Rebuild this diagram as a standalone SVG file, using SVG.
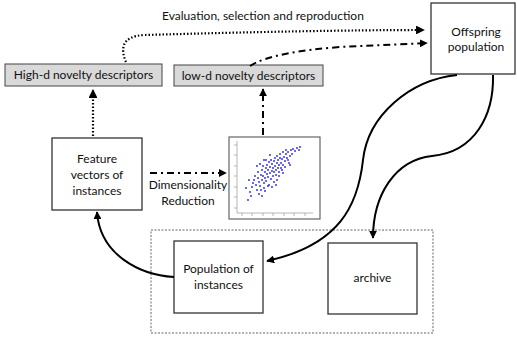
<svg xmlns="http://www.w3.org/2000/svg" width="517" height="339" viewBox="0 0 517 339">
  <style>
    text { font-family: Lato, "Liberation Sans", sans-serif; font-size: 12px; fill: #111; text-anchor: middle; }
    .box { fill: #fff; stroke: #333; stroke-width: 1.3; }
    .gbox { fill: #d9d9d9; stroke: #444; stroke-width: 1; }
    .conn { fill: none; stroke: #000; stroke-width: 2; }
    .dot { stroke-dasharray: 1.5 2; stroke-width: 2.2; }
    .dashdot { stroke-dasharray: 7 4 2 4; }
    .axis { stroke: #999; stroke-width: 0.7; fill: none; }
    .pt { fill: #2222ee; }
  </style>
  <defs>
    <marker id="arrow" viewBox="0 0 10 10" refX="9" refY="5" markerWidth="4" markerHeight="4" orient="auto" markerUnits="strokeWidth">
      <path d="M0,0 L10,5 L0,10 z" fill="#000"/>
    </marker>
  </defs>

  <!-- grouping frame around population and archive -->
  <rect id="store" x="151" y="230" width="282" height="103" fill="none" stroke="#666" stroke-width="1" stroke-dasharray="2 1.5"/>

  <text x="263" y="20">Evaluation, selection and reproduction</text>

  <g id="high-d">
    <rect class="gbox" x="5" y="64" width="157" height="22"/>
    <text x="83.5" y="79">High-d novelty descriptors</text>
  </g>

  <g id="low-d">
    <rect class="gbox" x="174" y="65" width="149" height="21"/>
    <text x="248.5" y="80">low-d novelty descriptors</text>
  </g>

  <g id="offspring">
    <rect class="box" x="431" y="3" width="84" height="71"/>
    <text x="476" y="36">Offspring</text>
    <text x="476" y="51">population</text>
  </g>

  <g id="features">
    <rect class="box" x="52" y="138" width="90" height="72"/>
    <text x="97" y="163">Feature</text>
    <text x="97" y="179">vectors of</text>
    <text x="97" y="195">instances</text>
  </g>

  <g id="scatter">
    <rect x="229" y="137" width="91" height="82" fill="#fff" stroke="#666" stroke-width="1.2"/>
    <path class="axis" d="M237,141 V213 H313"/>
    <path class="axis" d="M234,145 h3 M234,155 h3 M234,166 h3 M234,176 h3 M234,187 h3 M234,197 h3 M234,208 h3
                          M242,213 v3 M252,213 v3 M263,213 v3 M273,213 v3 M284,213 v3 M294,213 v3 M305,213 v3"/>
    <g class="pt">
      <circle cx="248" cy="200" r="0.9"/><circle cx="250" cy="192" r="0.9"/><circle cx="252" cy="187" r="0.9"/>
      <circle cx="253" cy="183" r="0.9"/><circle cx="249" cy="180" r="0.9"/><circle cx="256" cy="185" r="0.9"/>
      <circle cx="257" cy="190" r="0.9"/><circle cx="258" cy="178" r="0.9"/><circle cx="259" cy="182" r="0.9"/>
      <circle cx="260" cy="186" r="0.9"/><circle cx="261" cy="175" r="0.9"/><circle cx="262" cy="180" r="0.9"/>
      <circle cx="262" cy="170" r="0.9"/><circle cx="263" cy="176" r="0.9"/><circle cx="264" cy="183" r="0.9"/>
      <circle cx="265" cy="172" r="0.9"/><circle cx="265" cy="178" r="0.9"/><circle cx="266" cy="168" r="0.9"/>
      <circle cx="266" cy="181" r="0.9"/><circle cx="267" cy="174" r="0.9"/><circle cx="267" cy="165" r="0.9"/>
      <circle cx="268" cy="170" r="0.9"/><circle cx="268" cy="177" r="0.9"/><circle cx="269" cy="162" r="0.9"/>
      <circle cx="269" cy="185" r="0.9"/><circle cx="270" cy="173" r="0.9"/><circle cx="270" cy="167" r="0.9"/>
      <circle cx="271" cy="179" r="0.9"/><circle cx="271" cy="160" r="0.9"/><circle cx="272" cy="171" r="0.9"/>
      <circle cx="272" cy="164" r="0.9"/><circle cx="273" cy="176" r="0.9"/><circle cx="273" cy="168" r="0.9"/>
      <circle cx="274" cy="161" r="0.9"/><circle cx="274" cy="172" r="0.9"/><circle cx="275" cy="166" r="0.9"/>
      <circle cx="275" cy="158" r="0.9"/><circle cx="276" cy="170" r="0.9"/><circle cx="276" cy="175" r="0.9"/>
      <circle cx="277" cy="163" r="0.9"/><circle cx="277" cy="156" r="0.9"/><circle cx="278" cy="168" r="0.9"/>
      <circle cx="278" cy="160" r="0.9"/><circle cx="279" cy="172" r="0.9"/><circle cx="279" cy="165" r="0.9"/>
      <circle cx="280" cy="158" r="0.9"/><circle cx="280" cy="154" r="0.9"/><circle cx="281" cy="163" r="0.9"/>
      <circle cx="281" cy="168" r="0.9"/><circle cx="282" cy="159" r="0.9"/><circle cx="283" cy="152" r="0.9"/>
      <circle cx="283" cy="165" r="0.9"/><circle cx="284" cy="157" r="0.9"/><circle cx="285" cy="161" r="0.9"/>
      <circle cx="286" cy="154" r="0.9"/><circle cx="286" cy="150" r="0.9"/><circle cx="287" cy="158" r="0.9"/>
      <circle cx="288" cy="152" r="0.9"/><circle cx="289" cy="163" r="0.9"/><circle cx="290" cy="156" r="0.9"/>
      <circle cx="291" cy="150" r="0.9"/><circle cx="292" cy="154" r="0.9"/><circle cx="293" cy="149" r="0.9"/>
      <circle cx="295" cy="151" r="0.9"/><circle cx="297" cy="148" r="0.9"/><circle cx="299" cy="150" r="0.9"/>
      <circle cx="300" cy="147" r="0.9"/><circle cx="255" cy="176" r="0.9"/><circle cx="258" cy="172" r="0.9"/>
      <circle cx="263" cy="166" r="0.9"/><circle cx="261" cy="190" r="0.9"/><circle cx="264" cy="188" r="0.9"/>
      <circle cx="268" cy="186" r="0.9"/><circle cx="274" cy="182" r="0.9"/><circle cx="277" cy="180" r="0.9"/>
      <circle cx="259" cy="194" r="0.9"/><circle cx="246" cy="188" r="0.9"/><circle cx="251" cy="196" r="0.9"/>
      <circle cx="266" cy="160" r="0.9"/><circle cx="270" cy="155" r="0.9"/><circle cx="282" cy="170" r="0.9"/>
      <circle cx="285" cy="167" r="0.9"/><circle cx="288" cy="160" r="0.9"/><circle cx="290" cy="165" r="0.9"/>
      <circle cx="262" cy="196" r="0.9"/><circle cx="265" cy="191" r="0.9"/><circle cx="272" cy="187" r="0.9"/>
      <circle cx="276" cy="185" r="0.9"/><circle cx="279" cy="176" r="0.9"/><circle cx="283" cy="173" r="0.9"/>
      <circle cx="254" cy="180" r="0.9"/><circle cx="257" cy="166" r="0.9"/><circle cx="260" cy="164" r="0.9"/>
      <circle cx="264" cy="160" r="0.9"/>
    </g>
  </g>

  <text x="188" y="189">Dimensionality</text>
  <text x="188" y="205">Reduction</text>

  <g id="population">
    <rect class="box" x="174" y="241" width="89" height="72"/>
    <text x="218.5" y="273">Population of</text>
    <text x="218.5" y="289">instances</text>
  </g>

  <g id="archive">
    <rect class="box" x="328" y="243" width="89" height="71"/>
    <text x="372.5" y="282">archive</text>
  </g>

  <g id="connectors">
    <path class="conn dot" d="M126,62 C121,50 120,36 145,35 C250,32 350,30 424,30" marker-end="url(#arrow)"/>
    <path class="conn dashdot" d="M250,66 C265,56 300,50 340,47 L427,43" marker-end="url(#arrow)"/>
    <path class="conn dot" d="M93,136 L93,90" marker-end="url(#arrow)"/>
    <path class="conn dashdot" d="M263,135 L263,89" marker-end="url(#arrow)"/>
    <path class="conn dashdot" d="M150,173 L226,173" marker-end="url(#arrow)"/>
    <path class="conn" d="M457,75 C410,80 368,115 363,160 C358,205 340,245 267,261" marker-end="url(#arrow)"/>
    <path class="conn" d="M493,75 C494,115 475,152 432,156 C395,160 373,195 373,238" marker-end="url(#arrow)"/>
    <path class="conn" d="M174,277 C140,275 100,255 97,212" marker-end="url(#arrow)"/>
  </g>
</svg>
